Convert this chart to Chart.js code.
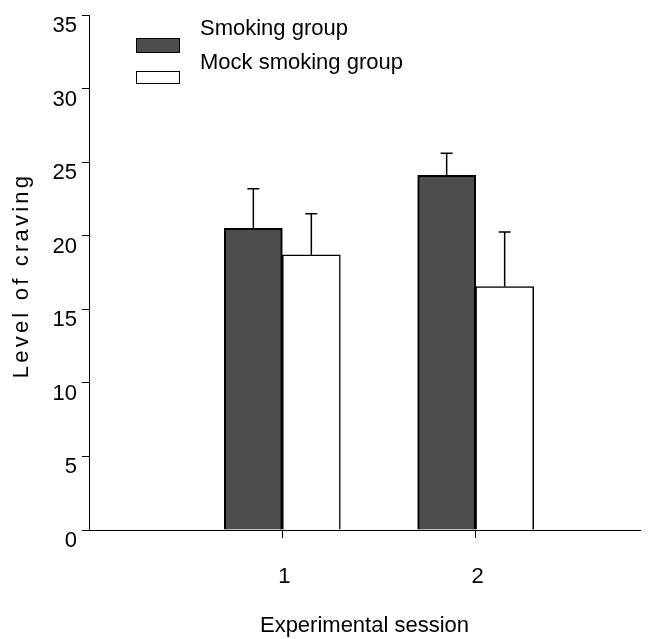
<!DOCTYPE html>
<html>
<head>
<meta charset="utf-8">
<script src="https://cdn.jsdelivr.net/npm/chart.js@4.4.0/dist/chart.umd.min.js"></script>
<style>
  body { margin: 0; background: #fff; }
</style>
</head>
<body>
<canvas id="grafico" width="659" height="639"></canvas>
<script>
// Datos
const sesiones = [1, 2];
const etiquetasSerie = ["Smoking group", "Mock smoking group"];
const fumadores = [20.5, 24.1];
const fumadoresError = [2.7, 1.5];
const simulado = [18.7, 16.55];
const simuladoError = [2.8, 3.7];
const ticksY = [0, 5, 10, 15, 20, 25, 30, 35];
const tituloY = "Level of craving";
const tituloX = "Experimental session";

const fuente = "'Liberation Sans', Arial, sans-serif";

// Barras de error (solo hacia arriba)
const barrasError = {
  id: "barrasError",
  afterDatasetsDraw(chart) {
    const ctx = chart.ctx;
    const y = chart.scales.y;
    ctx.save();
    ctx.strokeStyle = "#000";
    ctx.lineWidth = 1.5;
    chart.data.datasets.forEach((ds, i) => {
      const meta = chart.getDatasetMeta(i);
      meta.data.forEach((barra, j) => {
        const tope = y.getPixelForValue(ds.data[j].y + ds.errores[j]);
        ctx.beginPath();
        ctx.moveTo(barra.x, barra.y);
        ctx.lineTo(barra.x, tope);
        ctx.moveTo(barra.x - 6, tope);
        ctx.lineTo(barra.x + 6, tope);
        ctx.stroke();
      });
    });
    ctx.restore();
  }
};

// Leyenda dentro del área y título del eje Y con espaciado
const extras = {
  id: "extras",
  afterDraw(chart) {
    const ctx = chart.ctx;
    ctx.save();
    ctx.font = "22px " + fuente;
    ctx.textBaseline = "middle";
    const cajas = [[38, 15], [71, 13]];
    chart.data.datasets.forEach((ds, i) => {
      const [yCaja, alto] = cajas[i];
      ctx.fillStyle = ds.backgroundColor;
      ctx.fillRect(136, yCaja, 44, alto);
      ctx.strokeStyle = "#000";
      ctx.lineWidth = 1;
      ctx.strokeRect(136.5, yCaja + 0.5, 43, alto - 1);
      ctx.fillStyle = "#000";
      ctx.fillText(ds.label, 200, 29 + i * 34);
    });

    const area = chart.chartArea;
    ctx.translate(22, (area.top + area.bottom) / 2 + 3);
    ctx.rotate(-Math.PI / 2);
    ctx.textAlign = "center";
    ctx.font = "22px " + fuente;
    ctx.letterSpacing = "3.2px";
    ctx.fillText(tituloY, 0, 0);
    ctx.restore();
  }
};

const conjuntos = [
  { label: etiquetasSerie[0], valores: fumadores, errores: fumadoresError, color: "#4d4d4d", borde: 2 },
  { label: etiquetasSerie[1], valores: simulado, errores: simuladoError, color: "#ffffff", borde: 1.5 }
].map(s => ({
  label: s.label,
  data: sesiones.map((x, i) => ({ x: x, y: s.valores[i] })),
  errores: s.errores,
  backgroundColor: s.color,
  borderColor: "#000",
  borderWidth: s.borde,
  borderSkipped: "bottom",
  barThickness: 58
}));

new Chart(document.getElementById("grafico").getContext("2d"), {
  type: "bar",
  data: { datasets: conjuntos },
  options: {
    responsive: false,
    animation: false,
    layout: { padding: { left: 0, top: 15, right: 19, bottom: 0 } },
    plugins: { legend: { display: false }, tooltip: { enabled: false } },
    scales: {
      x: {
        type: "linear",
        min: 0,
        max: 2.85,
        offset: false,
        afterBuildTicks: (eje) => { eje.ticks = sesiones.map(v => ({ value: v })); },
        afterFit: (eje) => { eje.height = 109; },
        grid: { offset: false, drawOnChartArea: false, tickLength: 8, color: "#000" },
        border: { color: "#000", width: 1 },
        ticks: { color: "#000", font: { family: fuente, size: 22 }, padding: 26, labelOffset: 2 },
        title: {
          display: true,
          text: tituloX,
          color: "#000",
          font: { family: fuente, size: 22 },
          padding: { top: 10, bottom: 0 }
        }
      },
      y: {
        min: 0,
        max: 35,
        afterBuildTicks: (eje) => { eje.ticks = ticksY.map(v => ({ value: v })); },
        afterFit: (eje) => { eje.width = 89; eje.paddingTop = 0; eje.paddingBottom = 0; },
        grid: { drawOnChartArea: false, tickLength: 7, color: "#000" },
        border: { color: "#000", width: 1 },
        ticks: { color: "#000", font: { family: fuente, size: 22 }, padding: 5, labelOffset: 11 }
      }
    }
  },
  plugins: [barrasError, extras]
});
</script>
</body>
</html>
